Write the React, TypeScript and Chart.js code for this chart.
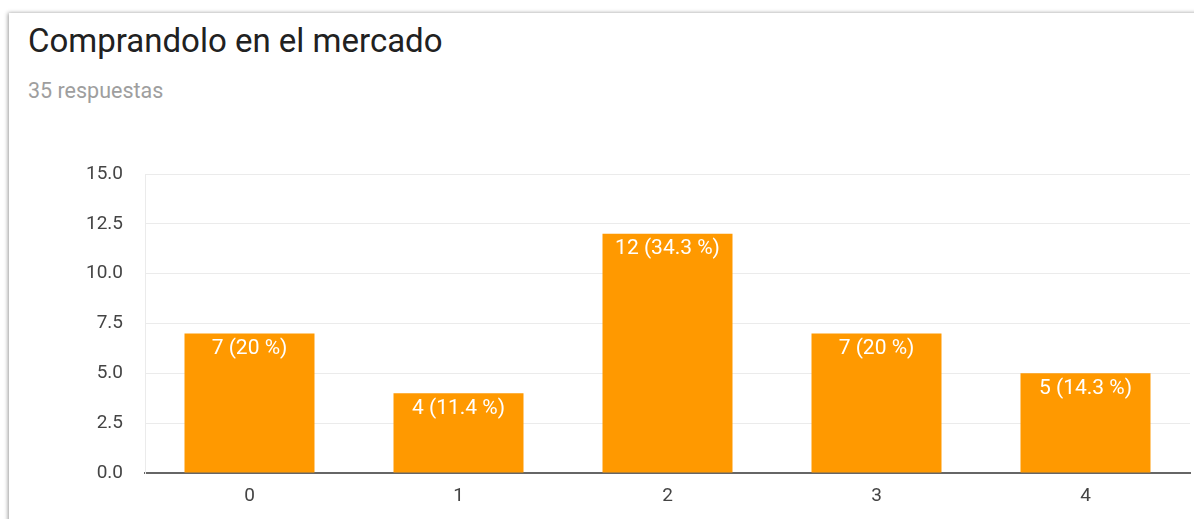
import React, { useEffect, useRef } from "react";
import { Chart, registerables } from "chart.js";

Chart.register(...registerables);

const title = "Comprandolo en el mercado";
const subtitle = "35 respuestas";
const categories = ["0", "1", "2", "3", "4"];
const counts = [7, 4, 12, 7, 5];
const percentLabels = ["20", "11.4", "34.3", "20", "14.3"];
const yTicks = [0, 2.5, 5, 7.5, 10, 12.5, 15];

const FONT = "Roboto, 'Noto Sans', Arial, sans-serif";

const barLabelPlugin = {
  id: "barLabels",
  afterDatasetsDraw(chart: any) {
    const ctx = chart.ctx;
    const meta = chart.getDatasetMeta(0);
    ctx.save();
    ctx.fillStyle = "#ffffff";
    ctx.font = `21px ${FONT}`;
    ctx.textAlign = "center";
    ctx.textBaseline = "middle";
    meta.data.forEach((bar: any, i: number) => {
      ctx.fillText(`${counts[i]} (${percentLabels[i]} %)`, bar.x, bar.y + 15);
    });
    ctx.restore();
  },
};

export default function App() {
  const ref = useRef<HTMLCanvasElement | null>(null);
  useEffect(() => {
    if (!ref.current) return;
    const chart = new Chart(ref.current, {
      type: "bar",
      data: {
        labels: categories,
        datasets: [
          {
            data: counts,
            backgroundColor: "#ff9900",
            borderWidth: 0,
            categoryPercentage: 1,
            barPercentage: 0.622,
          },
        ],
      },
      options: {
        animation: false,
        responsive: false,
        layout: { padding: { left: 0, right: 4, top: 174, bottom: 0 } },
        plugins: { legend: { display: false }, tooltip: { enabled: false } },
        scales: {
          x: {
            grid: { display: false, drawTicks: false },
            border: { display: true, color: "#666666", width: 2 },
            ticks: { color: "#444444", font: { family: FONT, size: 19 }, padding: 12 },
            afterFit: (s: any) => { s.height = 46; },
          },
          y: {
            min: 0,
            max: 15,
            afterBuildTicks: (s: any) => { s.ticks = yTicks.map((v) => ({ value: v })); },
            grid: { color: "#ebebeb", drawTicks: false, lineWidth: 1 },
            border: { display: true, color: "#ebebeb", width: 1 },
            ticks: {
              color: "#444444",
              font: { family: FONT, size: 19 },
              padding: 22,
              callback: (v: any) => Number(v).toFixed(1),
            },
            afterFit: (s: any) => { s.width = 145; },
          },
        },
      },
      plugins: [barLabelPlugin],
    });
    return () => chart.destroy();
  }, []);

  return (
    <div>
      <div
        style={{
          position: "absolute",
          left: 9,
          top: 13,
          width: 1250,
          height: 600,
          background: "#fff",
          boxShadow: "-1px 0 4px rgba(0,0,0,0.4)",
        }}
      />
      <div
        style={{
          position: "absolute",
          left: 28,
          top: 24,
          fontFamily: FONT,
          fontSize: 33,
          lineHeight: "33px",
          color: "#212121",
          whiteSpace: "nowrap",
        }}
      >
        {title}
      </div>
      <div
        style={{
          position: "absolute",
          left: 28,
          top: 80,
          fontFamily: FONT,
          fontSize: 21.5,
          lineHeight: "21px",
          color: "#9e9e9e",
          whiteSpace: "nowrap",
        }}
      >
        {subtitle}
      </div>
      <canvas
        ref={ref}
        width={1194}
        height={519}
        style={{ position: "absolute", left: 0, top: 0, width: 1194, height: 519 }}
      />
    </div>
  );
}
